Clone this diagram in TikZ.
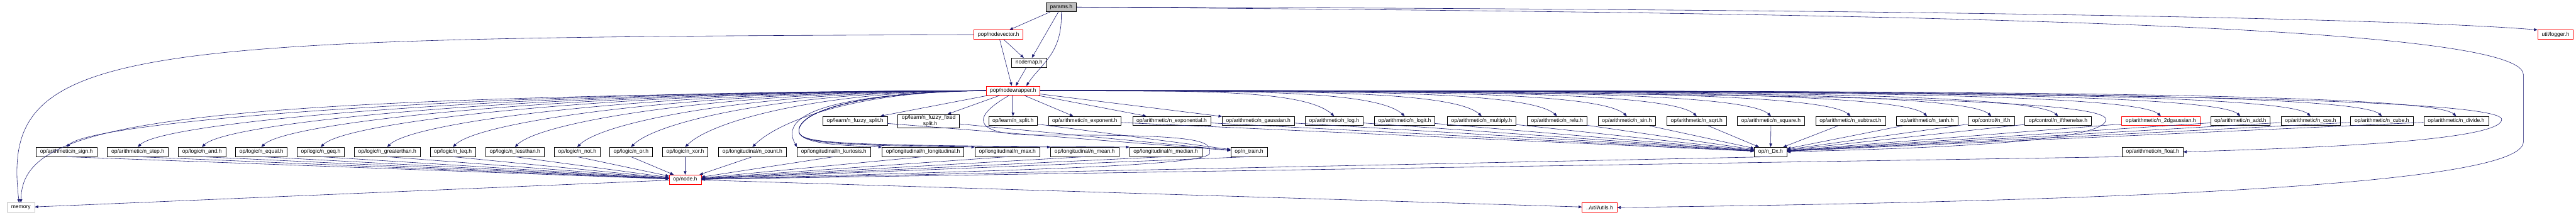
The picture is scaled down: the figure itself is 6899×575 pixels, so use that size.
\documentclass[tikz,border=0pt]{standalone}
\usepackage{fontspec}
\setmainfont{Liberation Sans}
\usepackage{xcolor}
\usepackage{tikz}
\usetikzlibrary{arrows.meta}

\definecolor{inclblue}{HTML}{191970}
\definecolor{rootgrey}{HTML}{BFBFBF}

\tikzset{
  hfile/.style={draw=black, fill=white, line width=0.75pt, minimum height=18.75pt,
    inner xsep=8pt, inner ysep=2pt, font=\fontsize{10.8}{12.5}\selectfont},
  hred/.style={hfile, draw=red},
  hroot/.style={hfile, fill=rootgrey},
  hext/.style={hfile, draw=rootgrey},
  incl/.style={draw=inclblue, line width=0.75pt, -{Triangle[length=7pt,width=5.5pt]}},
}

\begin{document}
\begin{tikzpicture}[x=0.75pt, y=-0.75pt]
			\useasboundingbox (0,0) rectangle (6899,575);
			% Nodes, top part:
			\node[hroot](params) at (2842, 19){params.h};
			\node[hred](nodevec) at (2674, 93){pop/nodevector.h};
			\node[hfile](nodemap) at (2756, 168){nodemap.h};
			\node[hred](nodewrap) at (2713, 243){pop/nodewrapper.h};
			\node[hred](logger) at (6844, 93){util/logger.h};
			% Nodes, second row:
			\node[hfile](nfuzzy) at (2290, 324){op/learn/n\_fuzzy\_split.h};
			\node[hfile, align=center](nfuzzyfix) at (2487, 324){op/learn/n\_fuzzy\_fixed\\\_split.h};
			\node[hfile](nsplit) at (2713, 324){op/learn/n\_split.h};
			\node[hfile](nexpo) at (2905, 324){op/arithmetic/n\_exponent.h};
			\node[hfile](nexpl) at (3138, 324){op/arithmetic/n\_exponential.h};
			\node[hfile](ngauss) at (3370, 324){op/arithmetic/n\_gaussian.h};
			\node[hfile](nlog) at (3573, 324){op/arithmetic/n\_log.h};
			\node[hfile](nlogit) at (3762, 324){op/arithmetic/n\_logit.h};
			\node[hfile](nmult) at (3968, 324){op/arithmetic/n\_multiply.h};
			\node[hfile](nrelu) at (4170, 324){op/arithmetic/n\_relu.h};
			\node[hfile](nsin) at (4357, 324){op/arithmetic/n\_sin.h};
			\node[hfile](nsqrt) at (4544, 324){op/arithmetic/n\_sqrt.h};
			\node[hfile](nsquare) at (4743, 324){op/arithmetic/n\_square.h};
			\node[hfile](nsub) at (4956, 324){op/arithmetic/n\_subtract.h};
			\node[hfile](ntanh) at (5161, 324){op/arithmetic/n\_tanh.h};
			\node[hfile](nif) at (5333, 324){op/control/n\_if.h};
			\node[hfile](nifte) at (5512, 324){op/control/n\_ifthenelse.h};
			\node[hred](ntwodg) at (5787, 324){op/arithmetic/n\_2dgaussian.h};
			\node[hfile](nadd) at (6000, 324){op/arithmetic/n\_add.h};
			\node[hfile](ncos) at (6188, 324){op/arithmetic/n\_cos.h};
			\node[hfile](ncube) at (6379, 324){op/arithmetic/n\_cube.h};
			\node[hfile](ndiv) at (6578, 324){op/arithmetic/n\_divide.h};
			% Nodes, third row:
			\node[hfile](nsign) at (178, 407){op/arithmetic/n\_sign.h};
			\node[hfile](nstep) at (369, 407){op/arithmetic/n\_step.h};
			\node[hfile](nand) at (541, 407){op/logic/n\_and.h};
			\node[hfile](nequal) at (700, 407){op/logic/n\_equal.h};
			\node[hfile](ngeq) at (859, 407){op/logic/n\_geq.h};
			\node[hfile](ngt) at (1037, 407){op/logic/n\_greaterthan.h};
			\node[hfile](nleq) at (1213, 407){op/logic/n\_leq.h};
			\node[hfile](nlt) at (1379, 407){op/logic/n\_lessthan.h};
			\node[hfile](nnot) at (1546, 407){op/logic/n\_not.h};
			\node[hfile](nor) at (1690, 407){op/logic/n\_or.h};
			\node[hfile](nxor) at (1835, 407){op/logic/n\_xor.h};
			\node[hfile](ncount) at (2015, 407){op/longitudinal/n\_count.h};
			\node[hfile](nkurt) at (2233, 407){op/longitudinal/n\_kurtosis.h};
			\node[hfile](nlongi) at (2472, 407){op/longitudinal/n\_longitudinal.h};
			\node[hfile](nmax) at (2698, 407){op/longitudinal/n\_max.h};
			\node[hfile](nmean) at (2905, 407){op/longitudinal/n\_mean.h};
			\node[hfile](nmedian) at (3122, 407){op/longitudinal/n\_median.h};
			\node[hfile](ntrain) at (3345, 407){op/n\_train.h};
			\node[hfile](ndx) at (4742, 407){op/n\_Dx.h};
			\node[hfile](nfloat) at (5765, 407){op/arithmetic/n\_float.h};
			% Nodes, bottom:
			\node[hred](opnode) at (1835, 481){op/node.h};
			\node[hext](memory) at (56, 556){memory};
			\node[hred](utils) at (4284, 556){../util/utils.h};
			% Bends:
			\coordinate (rtop) at (6758, 200);
			\coordinate (rbot) at (6758, 380);
			\coordinate (lbend) at (2140, 355);
			\coordinate (loopa) at (2800, 362);
			\coordinate (loopb) at (3240, 410);
			\coordinate (dxbend) at (5640, 320);
			\coordinate (flbend) at (6700, 320);
			% Include edges, top part:
			\draw[incl] (params) -- (nodevec);
			\draw[incl] (params) -- (nodemap);
			\draw[incl] (params.south) .. controls +(5, 110) and +(40, -60) .. (nodewrap.20);
			\draw[incl] (params.east) .. controls (4500, 22) and (6300, 40) .. (logger.north west);
			\draw[incl] (params.east) .. controls (5000, 35) and (6758, 60) .. (rtop) -- (rbot) .. controls (6758, 500) and (5600, 540) .. (utils.east);
			\draw[incl] (nodevec) -- (nodemap);
			\draw[incl] (nodevec) -- (nodewrap);
			\draw[incl] (nodemap) -- (nodewrap);
			\draw[incl] (nodevec.west) .. controls (300, 100) and (0, 120) .. (memory.110);
			\draw[incl] (nodewrap.west) .. controls (400, 260) and (60, 330) .. (memory.north);
			% Include edges, wrapper to rows:
			\foreach \t in {nfuzzy, nfuzzyfix, nsplit, nexpo, nexpl, ngauss}
				\draw[incl] (nodewrap) -- (\t);
			\foreach \t/\x in {nlog/3573, nlogit/3762, nmult/3968, nrelu/4170, nsin/4357, nsqrt/4544, nsquare/4743, nsub/4956, ntanh/5161, nif/5333, nifte/5512, ntwodg/5787, nadd/6000, ncos/6188, ncube/6379, ndiv/6578}
				\draw[incl] (nodewrap.east) .. controls +({0.55*(\x-2786)}, 0) and +(-80, -70) .. (\t.north);
			\foreach \t/\x in {nsign/178, nstep/369, nand/541, nequal/700, ngeq/859, ngt/1037, nleq/1213, nlt/1379, nnot/1546, nor/1690, nxor/1835, ncount/2015}
				\draw[incl] (nodewrap.west) .. controls +({-0.55*(2640-\x)}, 0) and +(70, -70) .. (\t.north);
			\draw[incl] (nodewrap.west) .. controls (2250, 250) and (2080, 300) .. (nkurt.north west);
			\foreach \t in {nlongi, nmax, nmean, nmedian}
				\draw[incl] (nodewrap.west) .. controls (2300, 245) and (2130, 300) .. (lbend) .. controls (2150, 385) and (2250, 390) .. (\t.north west);
			\draw[incl] (nodewrap.230) .. controls (2590, 320) and (2610, 365) .. (loopa) .. controls (3240, 360) and (3240, 380) .. (loopb) .. controls (3240, 450) and (2500, 460) .. (opnode.east);
			\draw[incl] (nodewrap.east) .. controls (4500, 250) and (5640, 255) .. (dxbend) .. controls (5640, 390) and (5000, 400) .. (ndx.east);
			\draw[incl] (nodewrap.east) .. controls (5000, 245) and (6700, 250) .. (flbend) .. controls (6700, 385) and (6050, 400) .. (nfloat.east);
			% Include edges, second row down:
			\foreach \t in {nfuzzy, nfuzzyfix, nsplit}
				\draw[incl] (\t) -- (ntrain);
			\foreach \t in {nexpo, nexpl, ngauss, nlog, nlogit, nmult, nrelu, nsin, nsqrt, nsquare, nsub, ntanh, nif, nifte, ntwodg, nadd, ncos, ncube, ndiv}
				\draw[incl] (\t) -- (ndx);
			% Include edges, third row down:
			\foreach \t in {nsign, nstep, nand, nequal, ngeq, ngt, nleq, nlt, nnot, nor, nxor, ncount, nkurt, nlongi, nmax, nmean, nmedian, ntrain, ndx}
				\draw[incl] (\t.south) -- (opnode);
			\draw[incl] (nfloat.south west) -- (opnode);
			\draw[incl] (opnode) -- (memory);
			\draw[incl] (opnode) -- (utils);
		\end{tikzpicture}
\end{document}
